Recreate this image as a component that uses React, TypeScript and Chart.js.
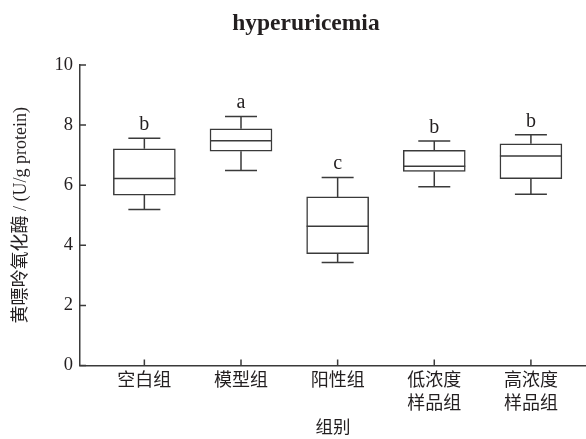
import React, { useEffect, useRef } from "react";
import { Chart, registerables } from "chart.js";

Chart.register(...registerables);

const CATEGORIES: string[][] = [["空白组"], ["模型组"], ["阳性组"], ["低浓度", "样品组"], ["高浓度", "样品组"]];
const MIN_VALUES = [5.19, 6.49, 3.43, 5.95, 5.7];
const Q1_VALUES = [5.67, 7.13, 3.72, 6.46, 6.22];
const MEDIAN_VALUES = [6.22, 7.48, 4.63, 6.63, 6.97];
const Q3_VALUES = [7.21, 7.88, 5.61, 7.16, 7.38];
const MAX_VALUES = [7.56, 8.29, 6.26, 7.47, 7.68];
const SIG_LETTERS = ["b", "a", "c", "b", "b"];
const Y_TICKS = [0, 2, 4, 6, 8, 10];

const TITLE = "hyperuricemia";
const Y_TITLE = "黄嘌呤氧化酶 / (U/g protein)";
const X_TITLE = "组别";

const LINE = "#3a3a3a";
const TEXT = "#231f20";
const SERIF = "'Liberation Serif', 'Noto Sans CJK SC', serif";

const boxPlugin = {
  id: "boxExtras",
  afterDatasetsDraw(chart: any) {
    const { ctx, chartArea } = chart;
    const xs = chart.scales.x;
    const ys = chart.scales.y;
    ctx.save();
    ctx.strokeStyle = LINE;
    ctx.lineWidth = 1.5;
    const boxHalf = 31;
    const capHalf = 16;
    CATEGORIES.forEach((_, i) => {
      const x = xs.getPixelForValue(i + 1);
      const yMin = ys.getPixelForValue(MIN_VALUES[i]);
      const yQ1 = ys.getPixelForValue(Q1_VALUES[i]);
      const yMed = ys.getPixelForValue(MEDIAN_VALUES[i]);
      const yQ3 = ys.getPixelForValue(Q3_VALUES[i]);
      const yMax = ys.getPixelForValue(MAX_VALUES[i]);
      ctx.beginPath();
      ctx.moveTo(x, yQ3);
      ctx.lineTo(x, yMax);
      ctx.moveTo(x - capHalf, yMax);
      ctx.lineTo(x + capHalf, yMax);
      ctx.moveTo(x, yQ1);
      ctx.lineTo(x, yMin);
      ctx.moveTo(x - capHalf, yMin);
      ctx.lineTo(x + capHalf, yMin);
      ctx.moveTo(x - boxHalf, yMed);
      ctx.lineTo(x + boxHalf, yMed);
      ctx.stroke();
      ctx.fillStyle = TEXT;
      ctx.font = `20px ${SERIF}`;
      ctx.textAlign = "center";
      ctx.textBaseline = "alphabetic";
      ctx.fillText(SIG_LETTERS[i], x, yMax - 8);
    });
    // inward tick marks
    ctx.beginPath();
    Y_TICKS.forEach((v) => {
      const y = ys.getPixelForValue(v);
      ctx.moveTo(chartArea.left, y);
      ctx.lineTo(chartArea.left + 6, y);
    });
    CATEGORIES.forEach((_, i) => {
      const x = xs.getPixelForValue(i + 1);
      ctx.moveTo(x, chartArea.bottom);
      ctx.lineTo(x, chartArea.bottom - 6);
    });
    ctx.stroke();
    ctx.restore();
  },
  afterDraw(chart: any) {
    const { ctx } = chart;
    ctx.save();
    ctx.fillStyle = TEXT;
    ctx.font = `bold 23.5px ${SERIF}`;
    ctx.textAlign = "center";
    ctx.textBaseline = "alphabetic";
    ctx.fillText(TITLE, chart.width * 0.522, 30);
    ctx.restore();
  },
};

export default function App() {
  const canvasRef = useRef<HTMLCanvasElement | null>(null);

  useEffect(() => {
    document.body.style.margin = "0";
    const canvas = canvasRef.current;
    if (!canvas) return;
    const chart = new Chart(canvas, {
      type: "bar",
      data: {
        datasets: [
          {
            data: CATEGORIES.map((_, i) => ({ x: i + 1, y: [Q1_VALUES[i], Q3_VALUES[i]] })) as any,
            backgroundColor: "#ffffff",
            borderColor: LINE,
            borderWidth: 1.5,
            borderSkipped: false,
            barThickness: 62,
          },
        ],
      },
      options: {
        animation: false,
        responsive: true,
        maintainAspectRatio: false,
        layout: { padding: { top: 65, right: 0, left: 0, bottom: 0 } },
        plugins: {
          legend: { display: false },
          tooltip: { enabled: false },
          title: { display: false },
        },
        scales: {
          x: {
            type: "linear",
            offset: false,
            min: 0.334,
            max: 5.57,
            afterBuildTicks: (scale: any) => {
              scale.ticks = CATEGORIES.map((_, i) => ({ value: i + 1 }));
            },
            afterFit: (scale: any) => {
              scale.height = 73.5;
            },
            grid: { offset: false, drawOnChartArea: false, drawTicks: false, color: LINE },
            border: { color: LINE, width: 1.5 },
            ticks: {
              color: TEXT,
              padding: 5,
              maxRotation: 0,
              autoSkip: false,
              font: { family: SERIF, size: 18, lineHeight: 1.25 },
              callback: (value: any) => {
                const c = CATEGORIES[Math.round(Number(value)) - 1];
                if (!c) return "";
                return c.length === 1 ? c[0] : c;
              },
            },
            title: {
              display: true,
              text: X_TITLE,
              color: TEXT,
              font: { family: SERIF, size: 17.5, lineHeight: 1.2 },
              padding: { top: 0, bottom: 0 },
            },
          },
          y: {
            type: "linear",
            min: 0,
            max: 10,
            afterBuildTicks: (scale: any) => {
              scale.ticks = Y_TICKS.map((v) => ({ value: v }));
            },
            afterFit: (scale: any) => {
              scale.width = 80;
            },
            grid: { drawOnChartArea: false, drawTicks: false, color: LINE },
            border: { color: LINE, width: 1.5 },
            ticks: {
              color: TEXT,
              padding: 7,
              font: { family: SERIF, size: 18.5 },
            },
            title: {
              display: true,
              text: Y_TITLE,
              color: TEXT,
              font: { family: SERIF, size: 18, lineHeight: 1.2 },
              padding: { top: 10, bottom: 0 },
            },
          },
        },
      },
      plugins: [boxPlugin],
    });
    return () => chart.destroy();
  }, []);

  return (
    <div style={{ position: "relative", width: "586px", height: "439px" }}>
      <canvas ref={canvasRef} />
    </div>
  );
}
